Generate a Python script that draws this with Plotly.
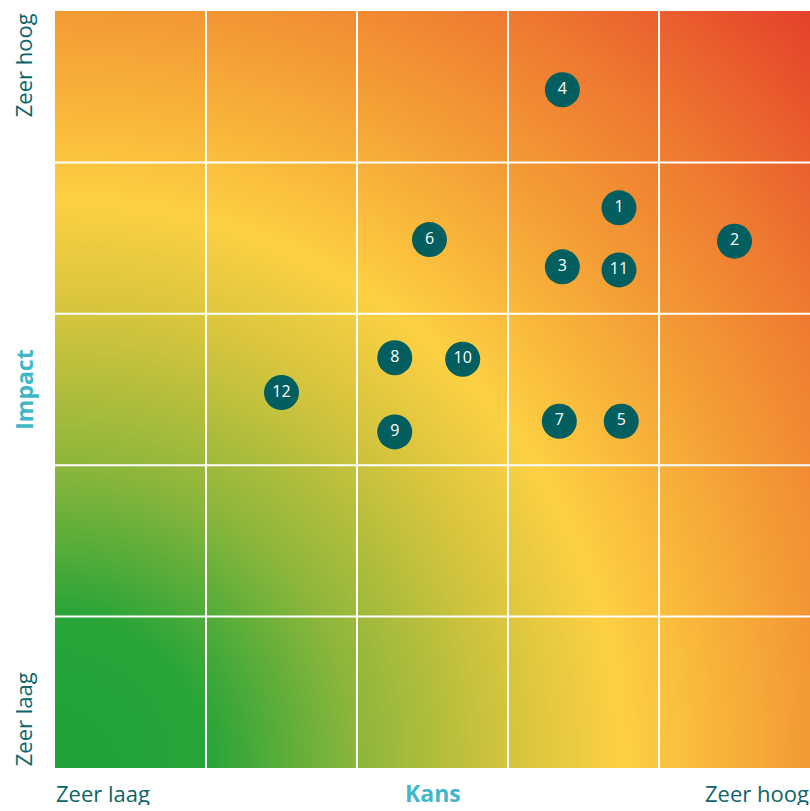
import numpy as np
import plotly.graph_objects as go

# Risk data: number, kans (x, 0-5 scale), impact (y, 0-5 scale)
risk_ids = ["1", "2", "3", "4", "5", "6", "7", "8", "9", "10", "11", "12"]
kans = [3.735, 4.50, 3.36, 3.36, 3.75, 2.48, 3.34, 2.25, 2.25, 2.70, 3.735, 1.50]
impact = [3.70, 3.48, 3.31, 4.48, 2.29, 3.49, 2.29, 2.71, 2.22, 2.70, 3.29, 2.48]

levels = ["Zeer laag", "Laag", "Gemiddeld", "Hoog", "Zeer hoog"]
n_levels = len(levels)

# Background gradient (radial from bottom-left corner)
grid = np.linspace(0, n_levels, 61)
gx, gy = np.meshgrid(grid, grid)
dist = np.sqrt(gx ** 2 + gy ** 2)
dmax = float(np.sqrt(2) * n_levels)

stops = [
    (0.0, "#1fa239"),
    (1.0, "#27a438"),
    (2.0, "#8cb63b"),
    (3.0, "#d4c43d"),
    (3.75, "#fdd043"),
    (4.3, "#f9b83b"),
    (5.0, "#f39a35"),
    (5.9, "#ee7630"),
    (dmax, "#e4412a"),
]
colorscale = [[d / dmax, c] for d, c in stops]

fig = go.Figure()
fig.add_trace(go.Heatmap(
    x=grid, y=grid, z=dist, zmin=0, zmax=dmax,
    colorscale=colorscale, zsmooth="best", showscale=False, hoverinfo="skip",
))

font_family = "Open Sans, Noto Sans, sans-serif"

fig.add_trace(go.Scatter(
    x=kans, y=impact, text=risk_ids, mode="markers+text",
    marker=dict(size=35, color="#035f5f", line=dict(width=0)),
    textposition="middle center",
    textfont=dict(color="white", size=16, family=font_family),
    hoverinfo="text", showlegend=False,
))

shapes = []
for i in range(1, n_levels):
    shapes.append(dict(type="line", xref="x", yref="y", x0=i, x1=i, y0=0, y1=n_levels,
                       line=dict(color="white", width=2), layer="above"))
    shapes.append(dict(type="line", xref="x", yref="y", x0=0, x1=n_levels, y0=i, y1=i,
                       line=dict(color="white", width=2), layer="above"))

teal = "#0d6468"
accent = "#3fb7c8"
label_font = dict(size=22, color=teal, family=font_family)
accent_font = dict(size=23, color=accent, family=font_family)
by = -0.033
lx = -0.042
common_bottom = dict(xref="paper", yref="paper", yanchor="middle", height=24, borderpad=0,
                     valign="middle", showarrow=False)
annotations = [
    dict(text=levels[0], x=0, y=by, xanchor="left", font=label_font, **common_bottom),
    dict(text=levels[-1], x=1, y=by, xanchor="right", font=label_font, **common_bottom),
    dict(text="<b>Kans</b>", x=0.5, y=by, xanchor="center", font=accent_font, **common_bottom),
    dict(text=levels[-1], x=lx, y=1, xref="paper", yref="paper", xanchor="center", yanchor="top",
         textangle=-90, showarrow=False, font=label_font),
    dict(text=levels[0], x=lx, y=0, xref="paper", yref="paper", xanchor="center", yanchor="bottom",
         textangle=-90, showarrow=False, font=label_font),
    dict(text="<b>Impact</b>", x=lx, y=0.5, xref="paper", yref="paper", xanchor="center",
         yanchor="middle", textangle=-90, showarrow=False, font=accent_font),
]

fig.update_layout(
    width=810, height=811,
    margin=dict(l=55, r=0, t=11, b=43),
    paper_bgcolor="white", plot_bgcolor="white",
    xaxis=dict(range=[0, n_levels], showgrid=False, zeroline=False, showticklabels=False,
               ticks="", fixedrange=True),
    yaxis=dict(range=[0, n_levels], showgrid=False, zeroline=False, showticklabels=False,
               ticks="", fixedrange=True),
    shapes=shapes, annotations=annotations, showlegend=False,
)

fig.write_html("out.html", config={"displayModeBar": False},
               post_script="document.body.style.margin='0';")
